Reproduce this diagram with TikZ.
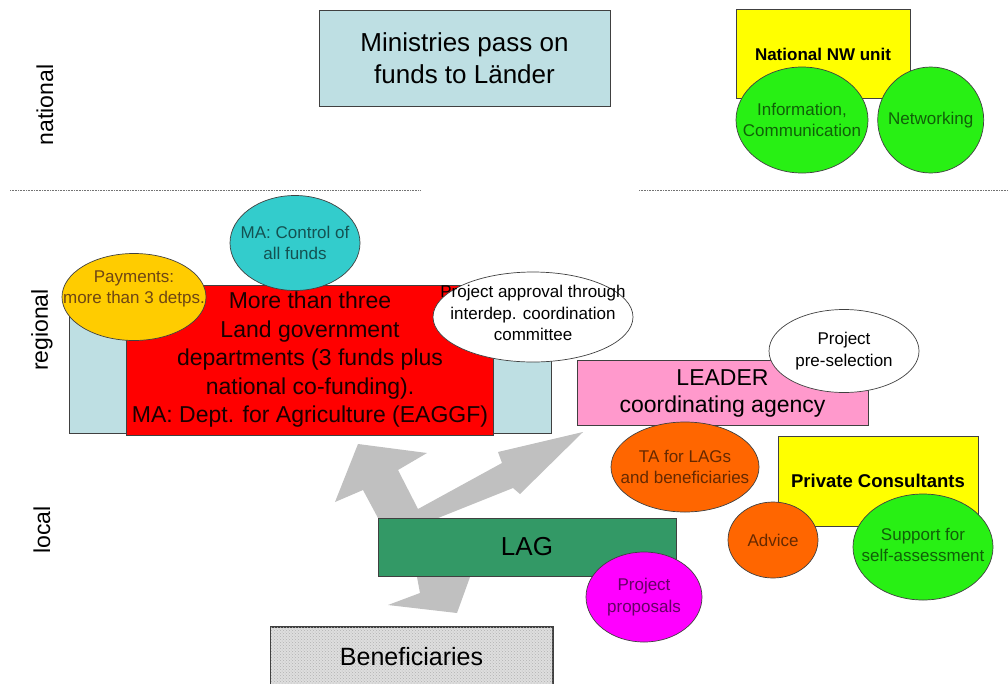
\documentclass[tikz,border=0pt]{standalone}
\usepackage{fontspec}
\setmainfont{Liberation Sans}
\usepackage{tikz}
\usetikzlibrary{shapes.geometric}
\usetikzlibrary{positioning}
\usetikzlibrary{patterns}
\definecolor{skyfund}{RGB}{190,223,227}
\definecolor{nwyellow}{RGB}{255,255,0}
\definecolor{nwgreen}{RGB}{40,240,20}
\definecolor{landred}{RGB}{255,0,0}
\definecolor{payamber}{RGB}{255,204,0}
\definecolor{paytext}{RGB}{110,70,20}
\definecolor{ctrlteal}{RGB}{51,204,204}
\definecolor{leaderpink}{RGB}{255,153,204}
\definecolor{taorange}{RGB}{255,102,0}
\definecolor{laggreen}{RGB}{51,153,102}
\definecolor{propmagenta}{RGB}{255,0,255}
\definecolor{flowgray}{RGB}{192,192,192}
\definecolor{benefgray}{RGB}{222,222,222}
\newcommand{\pxfont}[2]{\fontsize{#1}{#2}\selectfont}
\tikzset{
  panel/.style 2 args={draw=black!75, line width=0.7pt, inner sep=0pt, align=center, minimum width=#1, minimum height=#2},
  bubble/.style 2 args={ellipse, draw=black!75, line width=0.7pt, inner sep=0pt, minimum width=#1, minimum height=#2},
  bubtext/.style={align=center, text=#1!40!black, font=\pxfont{17}{21.5}},
  level/.style={rotate=90, font=\pxfont{23}{27}},
  divider/.style={densely dotted, black!55, line width=0.6pt},
}

\begin{document}
\begin{tikzpicture}[x=1pt, y=-1pt]
  \useasboundingbox[fill=white] (0,0) rectangle (1008,683);
  \node[level] (natl) at (45,105) {national};
  \node[level] (regl) at (42,330) {regional};
  \node[level] (locl) at (42,530) {local};
  \draw[divider] (10,190) -- (421,190);
  \draw[divider] (639,190) -- (1008,190);

  \node[panel={291pt}{96pt}, fill=skyfund, font=\pxfont{26}{32}] (ministries) at (464.5,58) {Ministries pass on\\funds to Länder};
  \node[panel={174pt}{89pt}, fill=nwyellow, font=\bfseries\pxfont{17}{21}] (nwunit) at (823,54) {National NW unit};
  \node[bubble={132pt}{106pt}, fill=nwgreen, label={[bubtext=nwgreen]center:{Information,\\Communication}}] (info) at (802,120) {};
  \node[bubble={106pt}{106pt}, fill=nwgreen, right=9pt of info, label={[bubtext=nwgreen]center:{Networking}}] (netw) {};

  \node[panel={482pt}{148pt}, fill=skyfund] (fundback) at (310,359) {};
  \node[panel={367pt}{150pt}, fill=landred, text=landred!10!black, font=\pxfont{23}{28.5}] (landdept) at (310,360) {More than three\\Land government\\departments (3 funds plus\\national co-funding).\\MA: Dept. for Agriculture (EAGGF)};
  \node[bubble={144pt}{87pt}, fill=payamber, label={[bubtext=paytext, text=paytext, yshift=8pt]center:{Payments:\\more than 3 detps.}}] (payments) at (134,297) {};
  \node[bubble={130pt}{95pt}, fill=ctrlteal, label={[bubtext=ctrlteal]center:{MA: Control of\\all funds}}] (control) at (295,243) {};
  \node[bubble={200pt}{90pt}, fill=white, label={[bubtext=black, yshift=4pt]center:{Project approval through\\interdep. coordination\\committee}}] (approval) at (533,317) {};

  \fill[flowgray] (358,444) -- (427,453) -- (398,470) -- (418,509) -- (502,463) -- (498,452)
    -- (583,432) -- (520,494) -- (513,488) -- (433,520) -- (470,577) -- (457,613)
    -- (388,605) -- (420,593) -- (417,577) -- (378,518) -- (363,490) -- (335,502) -- cycle;

  \node[panel={291pt}{65pt}, fill=leaderpink, font=\pxfont{23}{27}] (leader) at (722.5,393) {LEADER\\coordinating agency};
  \node[bubble={150pt}{83pt}, fill=white, label={[bubtext=black]center:{Project\\pre-selection}}] (preselect) at (844,351) {};
  \node[bubble={148pt}{90pt}, fill=taorange, label={[bubtext=taorange]center:{TA for LAGs\\and beneficiaries}}] (tasupport) at (685,467) {};
  \node[panel={200pt}{90pt}, fill=nwyellow, font=\bfseries\pxfont{18.5}{22}] (consult) at (878,481) {Private Consultants};
  \node[bubble={90pt}{76pt}, fill=taorange, label={[bubtext=taorange]center:{Advice}}] (advice) at (773,540) {};
  \node[bubble={140pt}{106pt}, fill=nwgreen, label={[bubtext=nwgreen, yshift=2pt]center:{Support for\\self-assessment}}] (selfassess) at (923,547) {};

  \node[panel={298pt}{58pt}, fill=laggreen, font=\pxfont{26}{30}] (lag) at (527,547) {LAG};
  \node[bubble={116pt}{90pt}, fill=propmagenta, label={[bubtext=propmagenta]center:{Project\\proposals}}] (proposals) at (644,597) {};
  \node[panel={282pt}{62pt}, fill=benefgray] (benef) at (411.5,658) {};
  \fill[pattern=crosshatch dots, pattern color=black!30] (benef.north west) rectangle (benef.south east);
  \draw[black!75, line width=0.7pt] (benef.north west) rectangle (benef.south east);
  \node[font=\pxfont{25}{30}] (beneftext) at (411.5,657) {Beneficiaries};
\end{tikzpicture}
\end{document}
